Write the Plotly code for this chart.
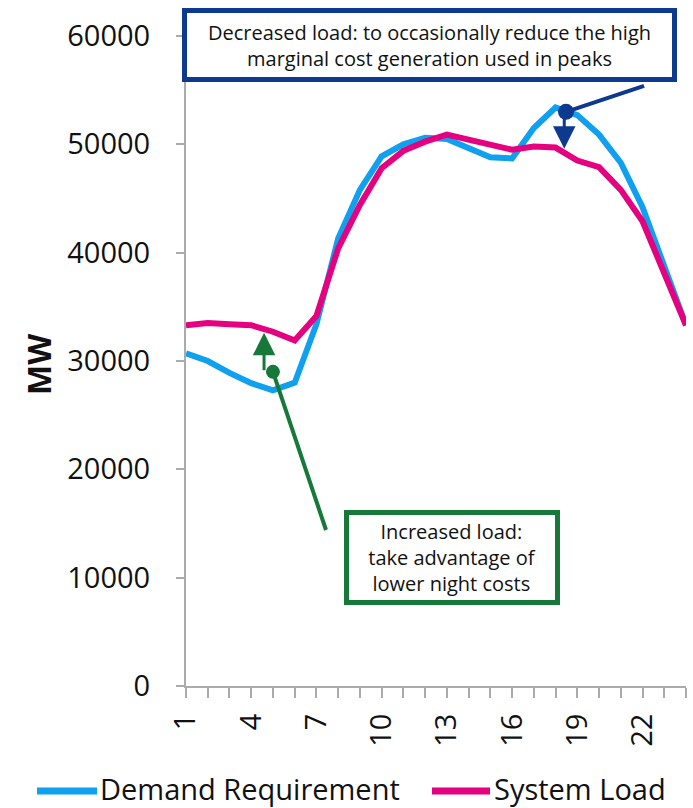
import plotly.graph_objects as go

hours = list(range(1, 25))
demand_requirement = [30700, 30000, 28900, 27950, 27300, 28000, 33400, 41300, 45800, 48900,
                      50000, 50600, 50500, 49600, 48800, 48700, 51500, 53400, 52700, 50900,
                      48300, 44200, 38600, 33300]
system_load = [33300, 33500, 33400, 33300, 32700, 31900, 34150, 40400, 44400, 47800,
               49400, 50250, 50900, 50450, 50000, 49500, 49800, 49700, 48500, 47900,
               45800, 42900, 38100, 33300]
series_names = ["Demand Requirement", "System Load"]
tick_vals = [1, 4, 7, 10, 13, 16, 19, 22]
tick_text = [str(v) for v in tick_vals]
y_ticks = [0, 10000, 20000, 30000, 40000, 50000, 60000]

BLUE = "#0FA0F0"
PINK = "#E4007F"
NAVY = "#0D3A8E"
GREEN = "#16793A"
TEXT = "#111111"
FONT = "Open Sans"

# plot area in pixels: left 186, right 686, top 36, bottom 686
L, R, T, B = 186, 686, 36, 686
def px(xp):
    return (xp - L) / (R - L)
def py(yp):
    return (B - yp) / (B - T)

fig = go.Figure()
fig.add_trace(go.Scatter(x=hours, y=demand_requirement, mode="lines",
                         name=series_names[0], line=dict(color=BLUE, width=6),
                         showlegend=False))
fig.add_trace(go.Scatter(x=hours, y=system_load, mode="lines",
                         name=series_names[1], line=dict(color=PINK, width=6),
                         showlegend=False))

# connector lines
fig.add_shape(type="line", x0=7.44, y0=14400, x1=5.0, y1=29000,
              line=dict(color=GREEN, width=4), layer="above")
fig.add_shape(type="line", x0=22.07, y0=55400, x1=18.48, y1=53000,
              line=dict(color=NAVY, width=4), layer="above")

# arrows
fig.add_annotation(x=4.59, y=32600, ax=4.59, ay=29000, axref="x", ayref="y",
                   xref="x", yref="y", text="", showarrow=True,
                   arrowhead=2, arrowsize=1.5, arrowwidth=3, arrowcolor=GREEN)
fig.add_annotation(x=18.4, y=49600, ax=18.4, ay=53000, axref="x", ayref="y",
                   xref="x", yref="y", text="", showarrow=True,
                   arrowhead=2, arrowsize=1.5, arrowwidth=3, arrowcolor=NAVY)

# dots
fig.add_trace(go.Scatter(x=[5.0], y=[29000], mode="markers", showlegend=False,
                         marker=dict(color=GREEN, size=14), hoverinfo="skip"))
fig.add_trace(go.Scatter(x=[18.48], y=[53000], mode="markers", showlegend=False,
                         marker=dict(color=NAVY, size=16), hoverinfo="skip"))

# text boxes
fig.add_annotation(xref="paper", yref="paper", x=px(429.5), y=py(45),
                   text="Decreased load: to occasionally reduce the high<br>marginal cost generation used in peaks",
                   showarrow=False, font=dict(family=FONT, size=20, color=TEXT),
                   bgcolor="white", bordercolor=NAVY, borderwidth=5, borderpad=2,
                   width=481, height=60, xanchor="center", yanchor="middle")
fig.add_annotation(xref="paper", yref="paper", x=px(452), y=py(557.5),
                   text="Increased load:<br>take advantage of<br>lower night costs",
                   showarrow=False, font=dict(family=FONT, size=20, color=TEXT),
                   bgcolor="white", bordercolor=GREEN, borderwidth=5, borderpad=2,
                   width=202, height=81, xanchor="center", yanchor="middle")

# y axis title
fig.add_annotation(xref="paper", yref="paper", x=px(38), y=py(365),
                   text="<b>MW</b>", textangle=-90, showarrow=False,
                   font=dict(family=FONT, size=32, color=TEXT),
                   xanchor="center", yanchor="middle")

# manual legend
legend_items = [(series_names[0], BLUE, 37, 97, 100), (series_names[1], PINK, 432, 490, 494)]
for name, col, x0, x1, xt in legend_items:
    fig.add_shape(type="line", xref="paper", yref="paper",
                  x0=px(x0), x1=px(x1), y0=py(791), y1=py(791),
                  line=dict(color=col, width=7))
    fig.add_annotation(xref="paper", yref="paper", x=px(xt), y=py(788),
                       text=name, showarrow=False, xanchor="left", yanchor="middle",
                       borderpad=0, borderwidth=0,
                       font=dict(family=FONT, size=29, color=TEXT))

axis_color = "#ABABAB"
fig.update_layout(
    width=693, height=808,
    margin=dict(l=L, r=693 - R, t=T, b=808 - B, autoexpand=False),
    paper_bgcolor="white", plot_bgcolor="white",
    font=dict(family=FONT, color=TEXT),
    showlegend=False,
    xaxis=dict(range=[1, 24], tickmode="array", tickvals=tick_vals, ticktext=tick_text,
               tickangle=-90, tickfont=dict(family=FONT, size=29, color=TEXT),
               automargin=False, ticklabelstandoff=4,
               showgrid=False, zeroline=False, showline=True, linecolor=axis_color,
               linewidth=2, ticks="outside", ticklen=10, tickcolor=axis_color, tickwidth=2,
               minor=dict(dtick=1, tick0=1, ticks="outside", ticklen=10,
                          tickcolor=axis_color, tickwidth=2, showgrid=False)),
    yaxis=dict(range=[0, 60000], tickmode="array", tickvals=y_ticks,
               ticktext=[str(v) for v in y_ticks],
               tickfont=dict(family=FONT, size=29, color=TEXT),
               automargin=False, ticklabelstandoff=20,
               showgrid=False, zeroline=False, showline=True, linecolor=axis_color,
               linewidth=2, ticks="outside", ticklen=8, tickcolor=axis_color, tickwidth=2),
)

fig.write_html("out.html", config={"displayModeBar": False},
               post_script="document.body.style.margin='0';")
